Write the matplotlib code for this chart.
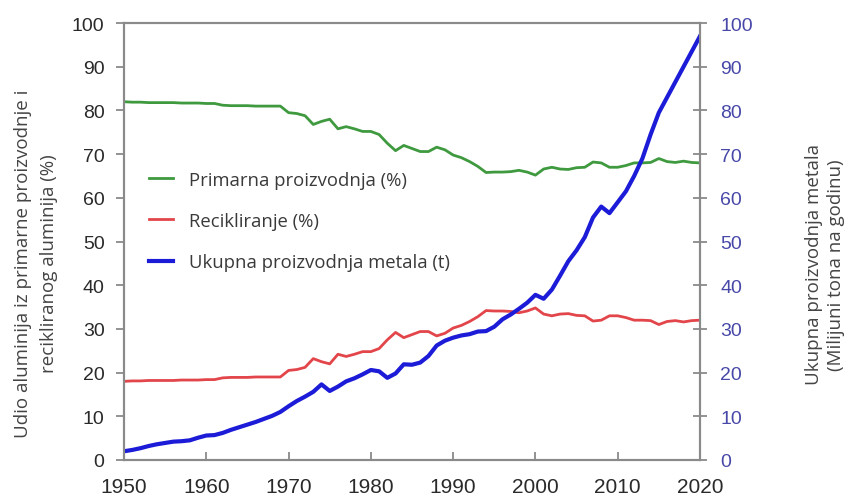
import matplotlib
matplotlib.use("Agg")
import matplotlib.pyplot as plt
from matplotlib.lines import Line2D

years = list(range(1950, 2021))

primary = [82.0, 81.9, 81.9, 81.8, 81.8, 81.8, 81.8, 81.7, 81.7, 81.7,
           81.6, 81.6, 81.2, 81.1, 81.1, 81.1, 81.0, 81.0, 81.0, 81.0,
           79.5, 79.3, 78.8, 76.8, 77.5, 78.0, 75.8, 76.3, 75.8, 75.2,
           75.2, 74.5, 72.5, 70.8, 72.0, 71.3, 70.6, 70.6, 71.6, 71.0,
           69.8, 69.2, 68.3, 67.2, 65.8, 65.9, 65.9, 66.0, 66.3, 65.9,
           65.2, 66.6, 67.0, 66.6, 66.5, 66.9, 67.0, 68.2, 68.0, 67.0,
           67.0, 67.4, 68.0, 68.0, 68.1, 69.0, 68.3, 68.1, 68.4, 68.1,
           68.0]

recycling = [18.0, 18.1, 18.1, 18.2, 18.2, 18.2, 18.2, 18.3, 18.3, 18.3,
             18.4, 18.4, 18.8, 18.9, 18.9, 18.9, 19.0, 19.0, 19.0, 19.0,
             20.5, 20.7, 21.2, 23.2, 22.5, 22.0, 24.2, 23.7, 24.2, 24.8,
             24.8, 25.5, 27.5, 29.2, 28.0, 28.7, 29.4, 29.4, 28.4, 29.0,
             30.2, 30.8, 31.7, 32.8, 34.2, 34.1, 34.1, 34.0, 33.7, 34.1,
             34.8, 33.4, 33.0, 33.4, 33.5, 33.1, 33.0, 31.8, 32.0, 33.0,
             33.0, 32.6, 32.0, 32.0, 31.9, 31.0, 31.7, 31.9, 31.6, 31.9,
             32.0]

total_metal = [2.0, 2.3, 2.7, 3.2, 3.6, 3.9, 4.2, 4.3, 4.5, 5.1,
               5.6, 5.7, 6.2, 6.9, 7.5, 8.1, 8.7, 9.4, 10.1, 11.0,
               12.3, 13.5, 14.5, 15.6, 17.3, 15.8, 16.8, 18.0, 18.7, 19.6,
               20.6, 20.3, 18.8, 19.8, 21.9, 21.8, 22.3, 23.8, 26.2, 27.3,
               28.0, 28.5, 28.8, 29.4, 29.5, 30.5, 32.2, 33.3, 34.6, 36.0,
               37.8, 36.9, 39.0, 42.2, 45.5, 48.0, 51.0, 55.5, 58.0, 56.5,
               59.0, 61.5, 65.0, 69.0, 74.5, 79.5, 83.0, 86.5, 90.0, 93.5,
               97.0]

labels = ["Primarna proizvodnja (%)", "Recikliranje (%)", "Ukupna proizvodnja metala (t)"]
xticks = [1950, 1960, 1970, 1980, 1990, 2000, 2010, 2020]
yticks = list(range(0, 101, 10))

green = "#3f9a3f"
red = "#e2454a"
blue = "#1c1cd8"
spine_c = "#8a8a8a"

fig = plt.figure(figsize=(8.53, 5.02), dpi=100)
ax = fig.add_axes([0.1454, 0.0817, 0.6752, 0.8703])
ax2 = ax.twinx()

ax.plot(years, primary, color=green, lw=2.0)
ax.plot(years, recycling, color=red, lw=2.0)
ax2.plot(years, total_metal, color=blue, lw=3.0)

for a in (ax, ax2):
    a.set_xlim(1950, 2020)
    a.set_ylim(0, 100)
    for s in a.spines.values():
        s.set_color(spine_c)
        s.set_linewidth(1.5)

ax.set_xticks(xticks)
ax.set_yticks(yticks)
ax2.set_yticks(yticks)

ax.tick_params(axis="y", direction="out", length=6, width=1.3, color=spine_c,
               labelcolor="#2a2a2a", pad=8)
ax.tick_params(axis="x", direction="in", length=6, width=1.3, color=spine_c,
               labelcolor="#2a2a2a", pad=12)
ax2.tick_params(axis="y", direction="inout", length=10, width=1.3, color=spine_c,
                labelcolor="#4848a8", pad=9.5)
for lab in ax.get_yticklabels() + ax2.get_yticklabels():
    lab.set_fontfamily("Liberation Sans")
    lab.set_fontsize(14)
for lab in ax.get_xticklabels():
    lab.set_fontfamily("Liberation Sans")
    lab.set_fontsize(15)

ax.set_ylabel("Udio aluminija iz primarne proizvodnje i\nrecikliranog aluminija (%)",
              family="Open Sans", size=13.5, color="#444444", linespacing=1.6)
ax.yaxis.set_label_coords(-0.114, 0.452)
ax2.set_ylabel("Ukupna proizvodnja metala\n(Milijuni tona na godinu)",
               family="Open Sans", size=13.5, color="#444444", linespacing=1.25)
ax2.yaxis.set_label_coords(1.183, 0.449)

handles = [Line2D([], [], color=green, lw=2.0),
           Line2D([], [], color=red, lw=2.0),
           Line2D([], [], color=blue, lw=3.0)]
leg = ax.legend(handles, labels, loc="upper left", bbox_to_anchor=(0.015, 0.7),
                frameon=False, prop=dict(family="Open Sans", size=13.3),
                handlelength=1.3, handletextpad=0.85, labelspacing=1.25,
                borderaxespad=0.5)
for t in leg.get_texts():
    t.set_color("#3a3a3a")

fig.savefig("out.png", dpi=100)
